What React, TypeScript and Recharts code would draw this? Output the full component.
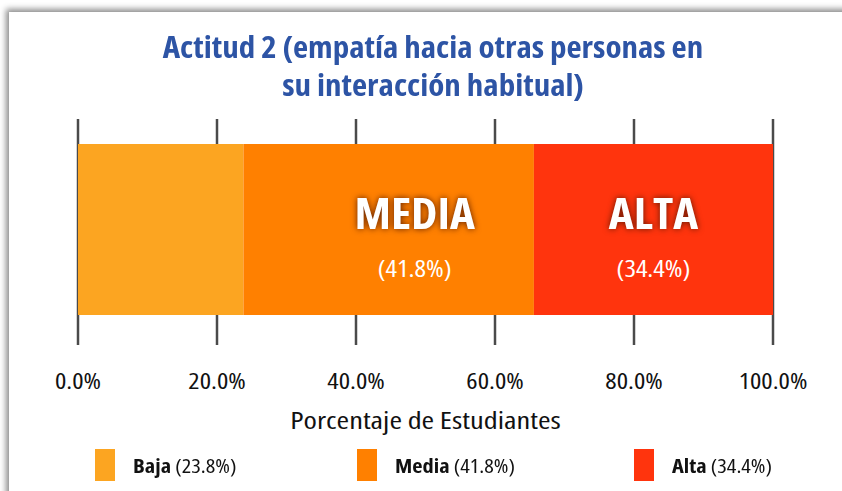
import { BarChart, Bar, XAxis, YAxis, CartesianGrid, LabelList } from "recharts";

const categories = ["Baja", "Media", "Alta"];
const values = [23.8, 41.8, 34.4];
const segmentTitles = ["", "MEDIA", "ALTA"];
const xTicks = [0, 20, 40, 60, 80, 100];
const rowName = "Actitud 2";

const colors = ["#FCA521", "#FF8000", "#FF340D"];
const labelShift = [0, 26, 0];
const legendLeft = [95, 357, 634];

const font = "'Open Sans', Roboto, sans-serif";
const fmt = (v: number) => `${v.toFixed(1)}%`;

// condensed face, widened a little to get closer to the original typeface
const widen = (k: number): React.CSSProperties => ({
  fontStretch: "75%",
  transformBox: "fill-box",
  transformOrigin: "center",
  transform: `scaleX(${k})`,
});

const row: Record<string, string | number> = { name: rowName };
categories.forEach((c, i) => {
  row[c] = values[i];
});
const data = [row];

function segmentLabel(i: number) {
  return (props: any) => {
    const { x, y, width, height } = props;
    if (!segmentTitles[i]) return null;
    const cx = Number(x) + Number(width) / 2 + labelShift[i];
    const cy = Number(y) + Number(height) / 2;
    return (
      <g>
        <g style={{ filter: "drop-shadow(0 0 3px rgba(80,20,0,0.9))" }}>
          <text x={cx} y={cy} textAnchor="middle" fill="#fff" fontFamily={font} fontWeight={700} fontSize={43} style={widen(1.1)}>
            {segmentTitles[i]}
          </text>
        </g>
        <text x={cx} y={cy + 48} textAnchor="middle" fill="#fff" fontFamily={font} fontSize={23.5} style={widen(1.15)}>
          ({fmt(values[i])})
        </text>
      </g>
    );
  };
}

export default function App() {
  return (
    <div style={{ position: "absolute", left: 0, top: 0, width: 842, height: 491, background: "#fff", overflow: "hidden" }}>
      <div
        style={{
          position: "absolute",
          left: 9,
          top: 12,
          width: 850,
          height: 500,
          background: "#fff",
          boxShadow: "-3px -3px 6px rgba(0,0,0,0.45)",
        }}
      />
      <div
        style={{
          position: "absolute",
          left: 0,
          top: 28,
          width: 866,
          textAlign: "center",
          color: "#2D54A5",
          fontFamily: font,
          fontStretch: "75%",
          fontWeight: 700,
          fontSize: 30,
          lineHeight: "38px",
          transform: "scaleX(1.1)",
          transformOrigin: "433px 0",
        }}
      >
        Actitud 2 (empatía hacia otras personas en
        <br />
        su interacción habitual)
      </div>
      <div style={{ position: "absolute", left: 0, top: 0 }}>
        <BarChart
          width={842}
          height={491}
          data={data}
          layout="vertical"
          margin={{ top: 119, right: 69, bottom: 86, left: 78 }}
          barSize={171}
        >
          <CartesianGrid horizontal={false} vertical stroke="#4a4a4a" strokeWidth={2.5} />
          <XAxis
            type="number"
            domain={[0, 100]}
            ticks={xTicks}
            tickFormatter={fmt}
            axisLine={false}
            tickLine={false}
            tickMargin={23.5}
            height={60}
            tick={{ fill: "#111", fontSize: 21, fontFamily: font, style: widen(1.27) }}
            label={{
              value: "Porcentaje de Estudiantes",
              position: "bottom",
              offset: 7,
              fill: "#111",
              fontSize: 24,
              fontFamily: font,
              style: widen(1.27),
            }}
          />
          <YAxis type="category" dataKey="name" hide padding={{ top: 0, bottom: 5 }} />
          {categories.map((c, i) => (
            <Bar key={c} dataKey={c} stackId="a" fill={colors[i]} isAnimationActive={false}>
              <LabelList dataKey={c} content={segmentLabel(i)} />
            </Bar>
          ))}
        </BarChart>
      </div>
      {categories.map((c, i) => (
        <div
          key={c}
          style={{
            position: "absolute",
            left: legendLeft[i],
            top: 449,
            height: 32,
            display: "flex",
            alignItems: "center",
            fontFamily: font,
            fontSize: 20,
            color: "#111",
            whiteSpace: "nowrap",
          }}
        >
          <span style={{ display: "inline-block", width: 20, height: 32, background: colors[i], marginRight: 18 }} />
          <span style={{ display: "inline-block", fontStretch: "75%", transform: "scaleX(1.12)", transformOrigin: "0 50%" }}>
            <b>{c}</b> ({fmt(values[i])})
          </span>
        </div>
      ))}
    </div>
  );
}
